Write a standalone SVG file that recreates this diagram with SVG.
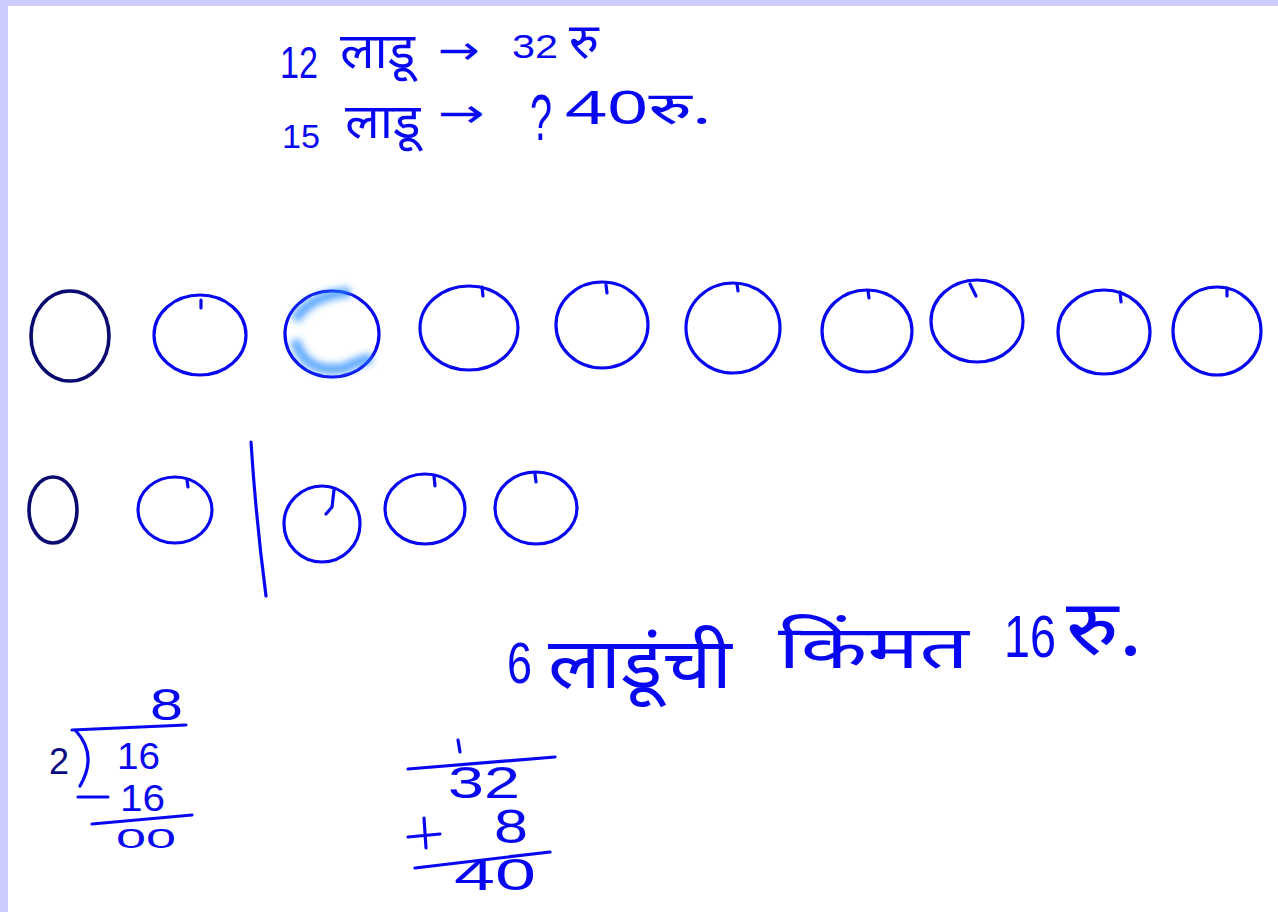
<svg xmlns="http://www.w3.org/2000/svg" width="1278" height="912" viewBox="0 0 1278 912">
<defs>
<style>
.ink{fill:none;stroke:#0808f0;stroke-width:3.2;stroke-linecap:round;stroke-linejoin:round}
.dark{fill:none;stroke:#0a0a70;stroke-width:3.6;stroke-linecap:round}
.t{font-family:"Noto Sans","Noto Sans Devanagari",sans-serif;fill:#0808f0}
.d{font-family:"Liberation Sans",Arial,sans-serif;fill:#0808f0}
.a{font-family:"DejaVu Sans",sans-serif;fill:#0808f0}
</style>
<filter id="blur" x="-30%" y="-30%" width="160%" height="160%"><feGaussianBlur stdDeviation="3.5"/></filter>
</defs>
<rect x="0" y="0" width="1278" height="912" fill="#ffffff"/>
<rect x="0" y="0" width="1278" height="6" fill="#ccccff"/>
<rect x="0" y="0" width="8" height="912" fill="#ccccff"/>

<g id="header">
<text class="d" x="280" y="78" font-size="44" textLength="38" lengthAdjust="spacingAndGlyphs">12</text>
<text class="t" transform="translate(340,68) scale(1.02,1)" font-size="50">लाडू</text>
<text class="a" transform="translate(438,64) scale(1.25,1)" font-size="40">→</text>
<text class="d" x="512" y="58" font-size="34" textLength="46" lengthAdjust="spacingAndGlyphs">32</text>
<text class="t" transform="translate(569,58)" font-size="50">रु</text>
<text class="d" x="282" y="148" font-size="34" textLength="38" lengthAdjust="spacingAndGlyphs">15</text>
<text class="t" transform="translate(345,138) scale(1.07,1)" font-size="48">लाडू</text>
<text class="a" transform="translate(438,127) scale(1.4,1)" font-size="40">→</text>
<text class="d" x="530" y="140" font-size="64" textLength="22" lengthAdjust="spacingAndGlyphs">?</text>
<text class="t" transform="translate(565,124) scale(1.62,1)" font-size="45">40रु.</text>
</g>

<g id="row1">
<ellipse cx="70" cy="336" rx="39" ry="45" class="dark"/>
<g class="ink">
<ellipse cx="200" cy="335" rx="46" ry="40"/>
<path d="M201 300 L201 308"/>
<ellipse cx="332" cy="334" rx="47" ry="43"/>
<ellipse cx="469" cy="328" rx="49" ry="42"/>
<path d="M482 287 L483 296"/>
<ellipse cx="602" cy="325" rx="46" ry="43"/>
<path d="M606 285 L607 293"/>
<ellipse cx="733" cy="328" rx="47" ry="45"/>
<path d="M737 284 L738 291"/>
<ellipse cx="867" cy="331" rx="45" ry="41"/>
<path d="M868 291 L869 298"/>
<ellipse cx="977" cy="321" rx="46" ry="41"/>
<path d="M970 284 L976 296"/>
<ellipse cx="1104" cy="332" rx="46" ry="42"/>
<path d="M1120 292 L1121 302"/>
<ellipse cx="1217" cy="331" rx="44" ry="44"/>
<path d="M1227 288 L1227 296"/>
</g>
<path d="M295 320 Q310 295 350 292 M295 340 Q305 375 345 368 Q360 360 372 358" fill="none" stroke="#2a8cff" stroke-width="10" stroke-opacity="0.75" filter="url(#blur)"/>
</g>

<g id="row2">
<ellipse cx="53" cy="510" rx="24" ry="33" class="dark"/>
<g class="ink">
<ellipse cx="175" cy="510" rx="37" ry="33"/>
<path d="M187 480 L188 487"/>
<path d="M251 442 Q256 520 266 596"/>
<ellipse cx="322" cy="524" rx="38" ry="38"/>
<path d="M334 490 L332 507 L326 514"/>
<ellipse cx="425" cy="509" rx="40" ry="35"/>
<path d="M434 476 L435 486"/>
<ellipse cx="536" cy="508" rx="41" ry="36"/>
<path d="M535 474 L536 482"/>
</g>
</g>

<g id="statement">
<text class="d" x="507" y="683" font-size="58" textLength="25" lengthAdjust="spacingAndGlyphs">6</text>
<text class="t" transform="translate(548,688) scale(1.11,1)" font-size="70">लाडूंची</text>
<text class="t" transform="translate(778,668) scale(1.45,1)" font-size="60">किंमत</text>
<text class="d" x="1004" y="657" font-size="60" textLength="52" lengthAdjust="spacingAndGlyphs">16</text>
<text class="t" transform="translate(1066,655) scale(1.16,1)" font-size="76">रु.</text>
</g>

<g id="division">
<text class="d" x="150" y="720" font-size="44" textLength="33" lengthAdjust="spacingAndGlyphs">8</text>
<path class="ink" d="M72 730 L186 725 M76 731 Q98 755 80 786"/>
<text x="49" y="774" font-size="36" font-family="Liberation Sans,Arial,sans-serif" fill="#0a0a80">2</text>
<text class="d" x="117" y="769" font-size="36" textLength="43" lengthAdjust="spacingAndGlyphs">16</text>
<path class="ink" d="M78 797 L108 797"/>
<text class="d" x="120" y="811" font-size="36" textLength="45" lengthAdjust="spacingAndGlyphs">16</text>
<path class="ink" d="M92 824 L192 815"/>
<text class="d" x="116" y="848" font-size="28" textLength="60" lengthAdjust="spacingAndGlyphs">00</text>
</g>

<g id="addition">
<path class="ink" d="M458 740 L460 752"/>
<path class="ink" d="M408 769 L555 757"/>
<text class="d" x="448" y="798" font-size="44" textLength="72" lengthAdjust="spacingAndGlyphs">32</text>
<path class="ink" d="M424 818 L426 848 M408 837 L440 834"/>
<text class="d" x="494" y="843" font-size="48" textLength="34" lengthAdjust="spacingAndGlyphs">8</text>
<path class="ink" d="M415 868 L550 852"/>
<text class="d" x="454" y="890" font-size="44" textLength="82" lengthAdjust="spacingAndGlyphs">40</text>
</g>
</svg>
